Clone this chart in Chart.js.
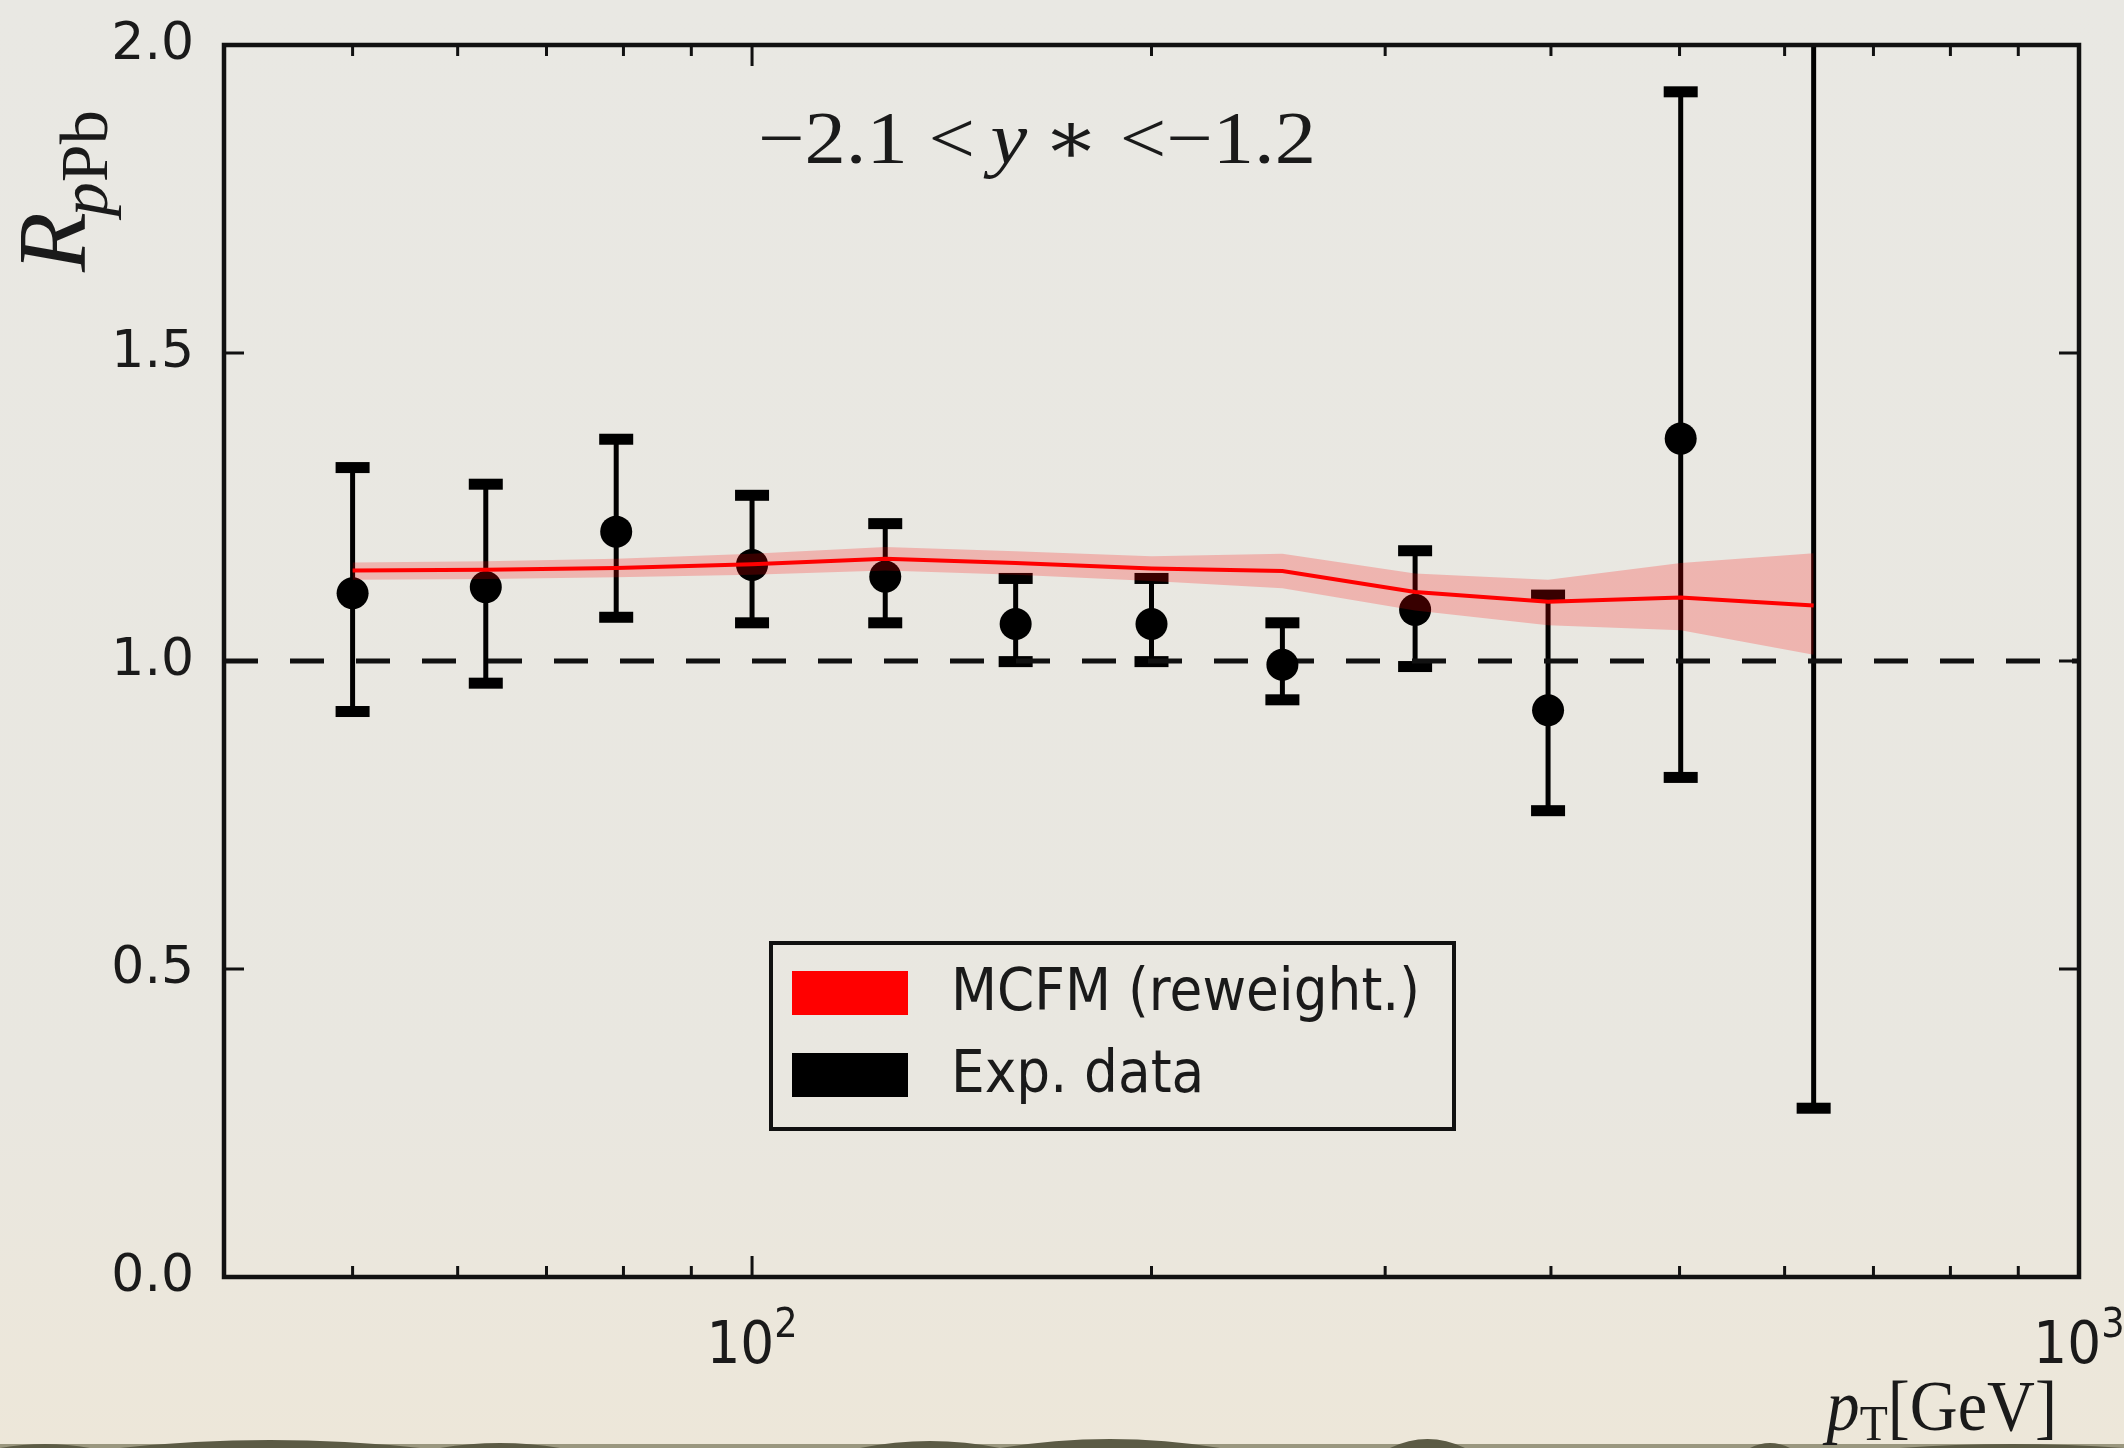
<!DOCTYPE html>
<html>
<head>
<meta charset="utf-8">
<title>R_pPb vs pT</title>
<script src="https://cdn.jsdelivr.net/npm/chart.js@4.4.1/dist/chart.umd.min.js"></script>
<style>
  html, body { margin: 0; padding: 0; background: #e8e7e1; }
  #wrap { width: 2124px; height: 1448px; }
</style>
</head>
<body>
<div id="wrap"><canvas id="rpPbChart"></canvas></div>
<script>
// pT bin centres (GeV)
const ptBins = [50, 63, 79, 100, 126, 158, 200, 251, 316, 398, 501, 631];

// experimental data with error bars
const expValue = [1.110, 1.120, 1.210, 1.156, 1.137, 1.060, 1.060, 0.994, 1.083, 0.920, 1.361, 2.300];
const expHigh  = [1.314, 1.287, 1.360, 1.269, 1.223, 1.134, 1.134, 1.062, 1.179, 1.107, 1.924, 4.330];
const expLow   = [0.918, 0.964, 1.071, 1.062, 1.062, 0.999, 0.999, 0.937, 0.991, 0.757, 0.811, 0.274];

// MCFM (reweighted) central value and band
const mcfmMid  = [1.147, 1.148, 1.151, 1.157, 1.166, 1.159, 1.150, 1.146, 1.112, 1.096, 1.103, 1.090];
const mcfmLow  = [1.132, 1.133, 1.136, 1.140, 1.147, 1.140, 1.130, 1.118, 1.082, 1.058, 1.050, 1.010];
const mcfmHigh = [1.160, 1.162, 1.166, 1.174, 1.185, 1.178, 1.170, 1.174, 1.142, 1.132, 1.159, 1.175];

const refLevel = 1.0;
const xRange = [40, 1000];
const yRange = [0, 2];
const xMajorTicks = [100, 1000];
const xMajorExp = ['2', '3'];
const xMinorTicks = [40, 50, 60, 70, 80, 90, 200, 300, 400, 500, 600, 700, 800, 900];
const legendLabels = ['MCFM (reweight.)', 'Exp. data'];
const legendColors = ['#ff0000', '#000000'];

const sans = '"DejaVu Sans", sans-serif';
const serif = '"Liberation Serif", "DejaVu Serif", serif';
const squeeze = 0.92;

const toPts = (xs, ys) => xs.map((x, i) => ({ x: x, y: ys[i] }));

// draws text narrowed horizontally, like the squashed original
function drawText(ctx, text, x, y, font, align, sx) {
    sx = sx || squeeze;
    ctx.save();
    ctx.font = font;
    const w = ctx.measureText(text).width * sx;
    const x0 = align === 'center' ? x - w / 2 : align === 'right' ? x - w : x;
    ctx.translate(x0, y);
    ctx.scale(sx, 1);
    ctx.textAlign = 'left';
    ctx.textBaseline = 'alphabetic';
    ctx.fillText(text, 0, 0);
    ctx.restore();
    return w;
}

function textWidth(ctx, text, font) {
    ctx.save();
    ctx.font = font;
    const w = ctx.measureText(text).width;
    ctx.restore();
    return w;
}

const backgroundPlugin = {
    id: 'paper',
    beforeDraw(chart) {
        const ctx = chart.ctx;
        const H = chart.height;
        const g = ctx.createLinearGradient(0, 0, 0, H);
        g.addColorStop(0, '#e9e8e3');
        g.addColorStop(0.75, '#e9e7e0');
        g.addColorStop(1, '#ede7d9');
        ctx.save();
        ctx.fillStyle = g;
        ctx.fillRect(0, 0, chart.width, H);
        // torn dark edge of the photo at the bottom
        ctx.fillStyle = '#9a977f';
        ctx.fillRect(0, H - 4, chart.width, 4);
        ctx.fillStyle = '#5c5b45';
        [[0, 90, 4], [120, 420, 8], [440, 560, 5], [860, 1000, 7], [1000, 1220, 9],
         [1390, 1465, 9], [1750, 1790, 5], [1900, 2124, 4]].forEach(b => {
            ctx.beginPath();
            ctx.moveTo(b[0], H);
            ctx.quadraticCurveTo((b[0] + b[1]) / 2, H - b[2] * 2, b[1], H);
            ctx.fill();
        });
        ctx.restore();
    }
};

const errorBarPlugin = {
    id: 'errorBars',
    beforeDatasetsDraw(chart) {
        const ctx = chart.ctx;
        const xs = chart.scales.x, ys = chart.scales.y;
        const area = chart.chartArea;
        ctx.save();
        ctx.beginPath();
        ctx.rect(area.left, area.top, area.right - area.left, area.bottom - area.top);
        ctx.clip();
        ctx.strokeStyle = '#000';
        ctx.fillStyle = '#000';
        ctx.lineWidth = 5;
        ptBins.forEach((pt, i) => {
            const px = xs.getPixelForValue(pt);
            const yHi = ys.getPixelForValue(expHigh[i]);
            const yLo = ys.getPixelForValue(expLow[i]);
            ctx.beginPath();
            ctx.moveTo(px, yHi);
            ctx.lineTo(px, yLo);
            ctx.stroke();
            ctx.fillRect(px - 17, yHi - 5.5, 34, 11);
            ctx.fillRect(px - 17, yLo - 5.5, 34, 11);
        });
        ctx.restore();
    }
};

const framePlugin = {
    id: 'frame',
    afterDraw(chart) {
        const ctx = chart.ctx;
        const xs = chart.scales.x, ys = chart.scales.y;
        const a = chart.chartArea;
        ctx.save();
        ctx.strokeStyle = '#111';
        ctx.fillStyle = '#1a1a1a';

        // ticks (inward, all four sides)
        ctx.lineWidth = 3;
        ctx.beginPath();
        xMinorTicks.forEach(v => {
            const px = xs.getPixelForValue(v);
            ctx.moveTo(px, a.bottom); ctx.lineTo(px, a.bottom - 11);
            ctx.moveTo(px, a.top); ctx.lineTo(px, a.top + 11);
        });
        xMajorTicks.forEach(v => {
            const px = xs.getPixelForValue(v);
            ctx.moveTo(px, a.bottom); ctx.lineTo(px, a.bottom - 21);
            ctx.moveTo(px, a.top); ctx.lineTo(px, a.top + 21);
        });
        ys.ticks.forEach(t => {
            const py = ys.getPixelForValue(t.value);
            ctx.moveTo(a.left, py); ctx.lineTo(a.left + 20, py);
            ctx.moveTo(a.right, py); ctx.lineTo(a.right - 20, py);
        });
        ctx.stroke();

        // frame
        ctx.lineWidth = 4.5;
        ctx.strokeRect(a.left, a.top, a.right - a.left, a.bottom - a.top);

        // x tick labels 10^2, 10^3
        const fBase = '58px ' + sans, fSup = '40px ' + sans;
        xMajorTicks.forEach((v, i) => {
            const px = xs.getPixelForValue(v);
            const w1 = textWidth(ctx, '10', fBase) * squeeze;
            const w2 = textWidth(ctx, xMajorExp[i], fSup) * squeeze;
            const x0 = px - (w1 + w2) / 2;
            drawText(ctx, '10', x0, a.bottom + 86, fBase, 'left');
            drawText(ctx, xMajorExp[i], x0 + w1, a.bottom + 60, fSup, 'left');
        });

        // x axis title  p_T[GeV]
        const fMain = 'italic 72px ' + serif, fRom = '72px ' + serif, fSub = '50px ' + serif;
        const wp = textWidth(ctx, 'p', fMain) * squeeze;
        const wT = textWidth(ctx, 'T', fSub) * squeeze;
        const wG = textWidth(ctx, '[GeV]', fRom) * squeeze;
        let tx = a.right - 22 - (wp + wT + wG);
        const tBase = a.bottom + 153;
        drawText(ctx, 'p', tx, tBase, fMain, 'left'); tx += wp;
        drawText(ctx, 'T', tx, tBase + 10, fSub, 'left'); tx += wT;
        drawText(ctx, '[GeV]', tx, tBase, fRom, 'left');

        // y axis title  R_pPb (rotated)
        ctx.save();
        ctx.translate(85, 272);
        ctx.rotate(-Math.PI / 2);
        ctx.textBaseline = 'alphabetic';
        ctx.textAlign = 'left';
        ctx.font = 'italic 98px ' + serif;
        ctx.fillText('R', 0, 0);
        let ox = ctx.measureText('R').width - 4;
        ctx.font = 'italic 68px ' + serif;
        ctx.fillText('p', ox, 22);
        ox += ctx.measureText('p').width;
        ctx.font = '68px ' + serif;
        ctx.fillText('Pb', ox, 22);
        ctx.restore();

        // annotation  -2.1 < y* < -1.2
        const annParts = [['\u22122.1 <', '74px ' + serif], ['y', 'italic 74px ' + serif], ['\u2217 <\u22121.2', '74px ' + serif]];
        const gap = 14;
        let annW = 0;
        annParts.forEach(p => { annW += textWidth(ctx, p[0], p[1]); });
        annW += gap * 2;
        const annTarget = 558;
        const sxA = annTarget / annW;
        let ax = 758;
        annParts.forEach(p => {
            ax += drawText(ctx, p[0], ax, 163, p[1], 'left', sxA);
            ax += gap * sxA;
        });

        // legend
        const lx = 771, ly = 943, lw = 683, lh = 186;
        ctx.lineWidth = 4;
        ctx.strokeRect(lx, ly, lw, lh);
        legendLabels.forEach((lab, i) => {
            const rowY = ly + 28 + i * 82;
            ctx.fillStyle = legendColors[i];
            ctx.fillRect(lx + 21, rowY, 116, 44);
            ctx.fillStyle = '#1a1a1a';
            drawText(ctx, lab, lx + 180, rowY + 39, '58px ' + sans, 'left');
        });

        ctx.restore();
    }
};

const ctx = document.getElementById('rpPbChart').getContext('2d');
new Chart(ctx, {
    type: 'scatter',
    data: {
        datasets: [
            {
                label: 'ref',
                data: [{ x: xRange[0], y: refLevel }, { x: xRange[1], y: refLevel }],
                showLine: true,
                borderColor: '#111',
                borderWidth: 5,
                borderDash: [34, 32],
                pointRadius: 0,
                order: 6
            },
            {
                label: legendLabels[1],
                data: toPts(ptBins, expValue),
                backgroundColor: '#000',
                borderWidth: 0,
                pointRadius: 16,
                order: 5
            },
            {
                label: 'band high',
                data: toPts(ptBins, mcfmHigh),
                showLine: true,
                borderWidth: 0,
                borderColor: 'rgba(0,0,0,0)',
                backgroundColor: 'rgba(255, 0, 0, 0.22)',
                pointRadius: 0,
                fill: '+1',
                order: 3
            },
            {
                label: 'band low',
                data: toPts(ptBins, mcfmLow),
                showLine: true,
                borderWidth: 0,
                borderColor: 'rgba(0,0,0,0)',
                pointRadius: 0,
                fill: false,
                order: 3
            },
            {
                label: legendLabels[0],
                data: toPts(ptBins, mcfmMid),
                showLine: true,
                borderColor: '#ff0000',
                borderWidth: 4,
                pointRadius: 0,
                order: 1
            }
        ]
    },
    options: {
        responsive: true,
        maintainAspectRatio: false,
        animation: false,
        devicePixelRatio: 1,
        layout: { padding: { top: 45, right: 45, left: 0, bottom: 0 } },
        plugins: {
            legend: { display: false },
            tooltip: { enabled: false }
        },
        scales: {
            x: {
                type: 'logarithmic',
                min: xRange[0],
                max: xRange[1],
                grid: { display: false },
                border: { display: false },
                ticks: { display: false },
                afterFit(scale) {
                    scale.height = 171;
                    scale.paddingLeft = 0;
                    scale.paddingRight = 0;
                }
            },
            y: {
                min: yRange[0],
                max: yRange[1],
                grid: { display: false },
                border: { display: false },
                ticks: {
                    stepSize: 0.5,
                    padding: 22,
                    color: '#1a1a1a',
                    font: { family: 'DejaVu Sans', size: 52 },
                    callback: v => v.toFixed(1)
                },
                afterFit(scale) {
                    scale.width = 224;
                    scale.paddingTop = 0;
                    scale.paddingBottom = 0;
                }
            }
        }
    },
    plugins: [backgroundPlugin, errorBarPlugin, framePlugin]
});
</script>
</body>
</html>
